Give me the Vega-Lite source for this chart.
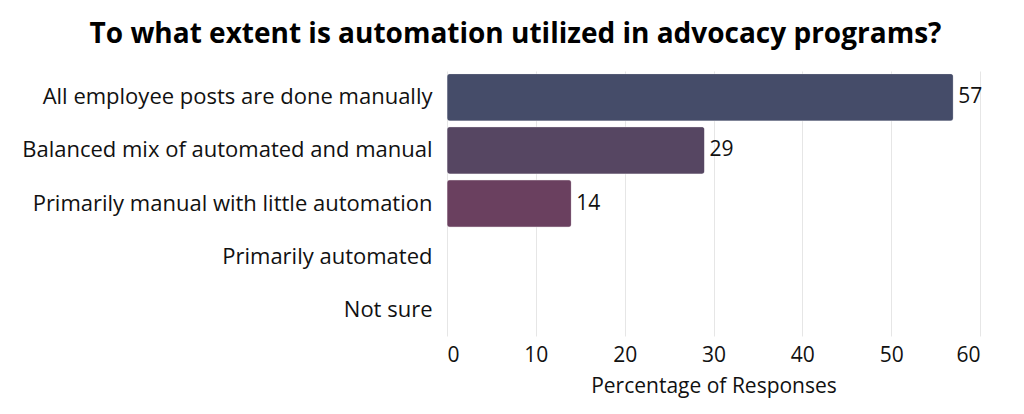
{
  "$schema": "https://vega.github.io/schema/vega-lite/v6.json",
  "autosize": {"type": "none"},
  "width": 533,
  "height": 265,
  "padding": {"left": 447, "top": 71, "right": 44, "bottom": 78},
  "background": "white",
  "config": {
    "font": "Open Sans",
    "view": {"stroke": null}
  },
  "title": {
    "text": "To what extent is automation utilized in advocacy programs?",
    "font": "Open Sans",
    "fontSize": 28,
    "fontWeight": "bold",
    "color": "#000000",
    "anchor": "middle",
    "frame": "group",
    "dx": -198,
    "offset": 22
  },
  "data": {
    "values": [
      {"category": "All employee posts are done manually", "pct": 57},
      {"category": "Balanced mix of automated and manual", "pct": 29},
      {"category": "Primarily manual with little automation", "pct": 14},
      {"category": "Primarily automated", "pct": null},
      {"category": "Not sure", "pct": null}
    ]
  },
  "encoding": {
    "y": {
      "field": "category",
      "type": "nominal",
      "sort": null,
      "scale": {
        "domain": ["All employee posts are done manually", "Balanced mix of automated and manual", "Primarily manual with little automation", "Primarily automated", "Not sure"],
        "paddingInner": 0.11, "paddingOuter": 0.05
      },
      "axis": {
        "title": null,
        "ticks": false,
        "domain": false,
        "grid": false,
        "labelFontSize": 22,
        "labelColor": "#111111",
        "labelPadding": 15,
        "labelLimit": 500
      }
    },
    "x": {
      "field": "pct",
      "type": "quantitative",
      "scale": {"domain": [0, 60]},
      "axis": {
        "title": "Percentage of Responses",
        "titleFontSize": 21,
        "titleFontWeight": "normal",
        "titleColor": "#111111",
        "titlePadding": 10,
        "values": [0, 10, 20, 30, 40, 50, 60],
        "ticks": false,
        "domain": false,
        "grid": true,
        "gridColor": "#e6e6e6",
        "labelFontSize": 21,
        "labelColor": "#111111",
        "labelPadding": 8
      }
    }
  },
  "layer": [
    {
      "mark": {"type": "bar", "cornerRadius": 3, "stroke": "#ffffff", "strokeOpacity": 0.3, "strokeWidth": 1},
      "encoding": {
        "color": {
          "field": "category",
          "type": "nominal",
          "sort": null,
          "legend": null,
          "scale": {
            "domain": ["All employee posts are done manually", "Balanced mix of automated and manual", "Primarily manual with little automation", "Primarily automated", "Not sure"],
            "range": ["#454c69", "#564662", "#6a405f", "#7a3a5a", "#8a3455"]
          }
        }
      }
    },
    {
      "mark": {"type": "text", "align": "left", "dx": 5, "fontSize": 21, "color": "#111111"},
      "encoding": {
        "text": {"field": "pct", "type": "quantitative"}
      }
    }
  ]
}
